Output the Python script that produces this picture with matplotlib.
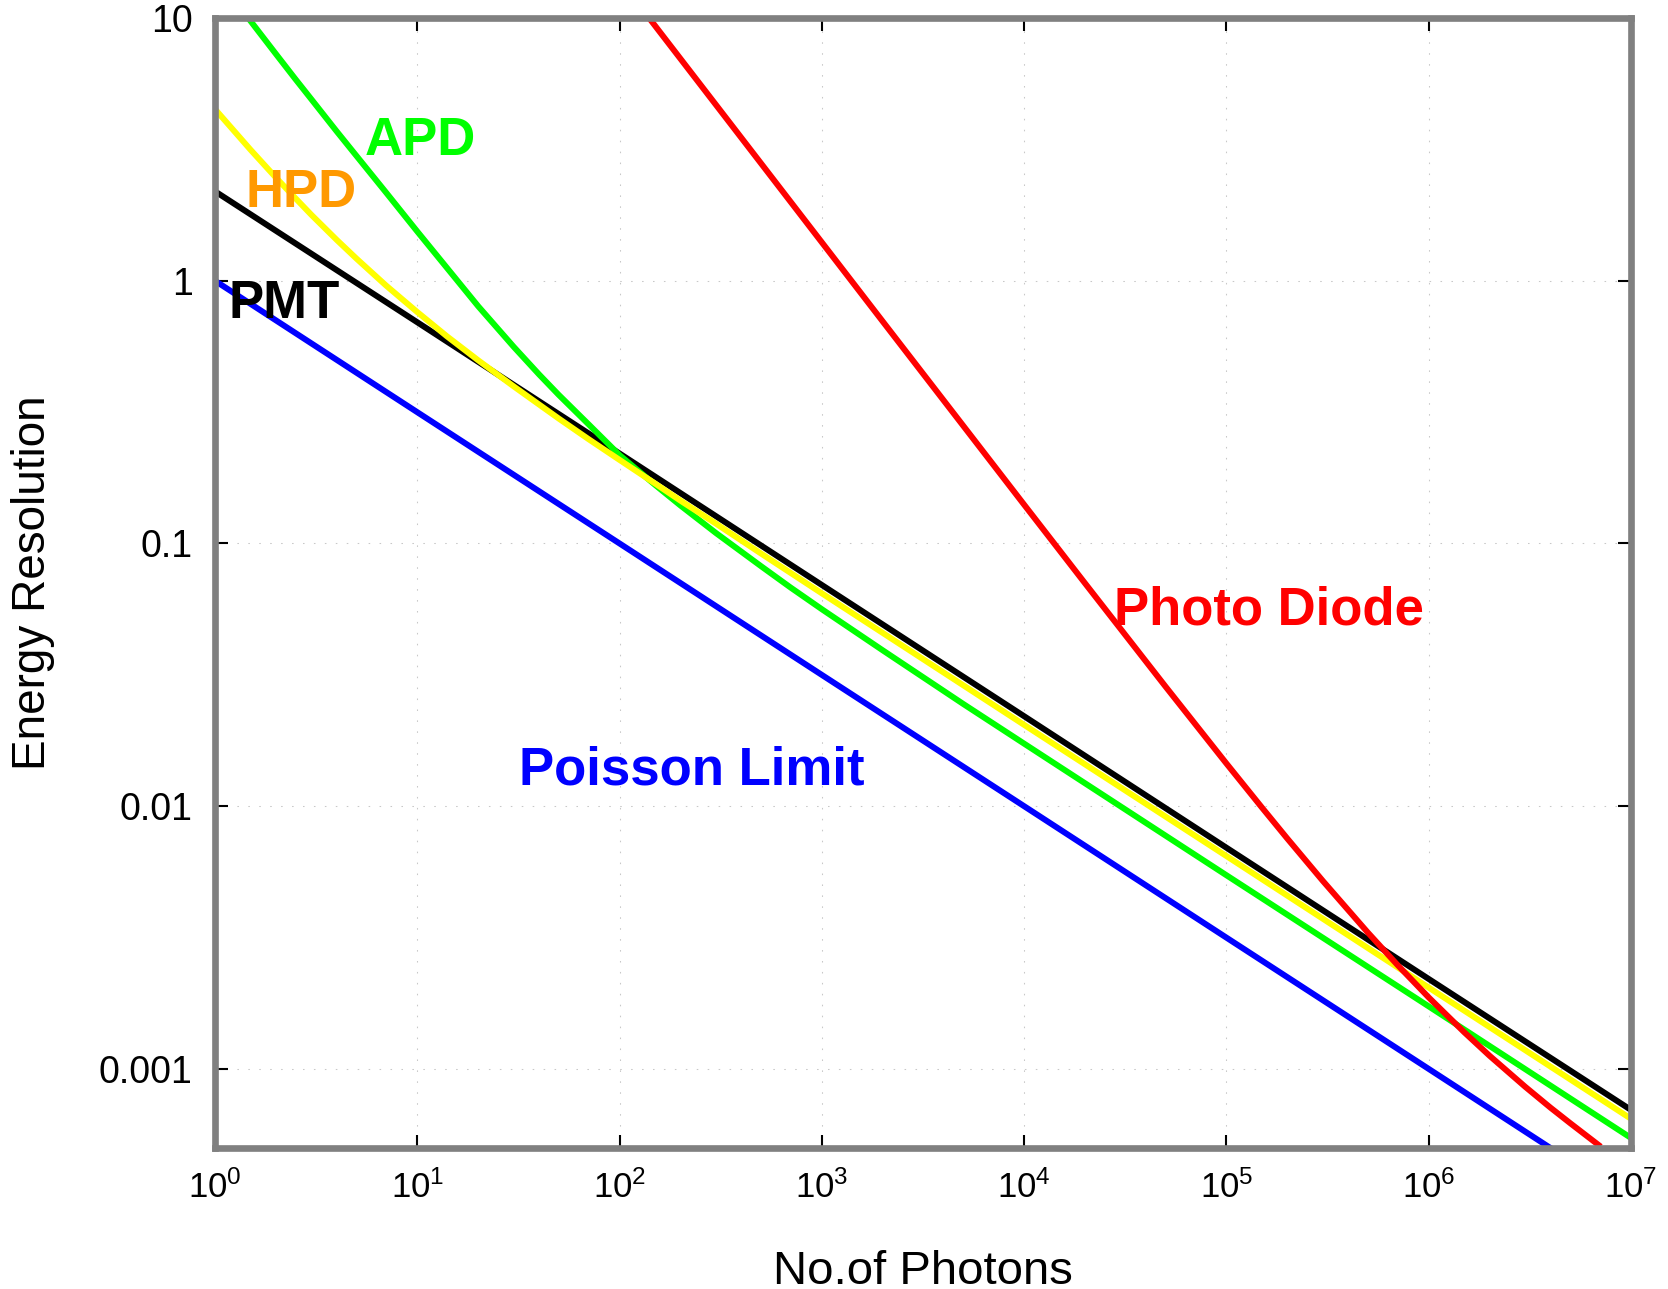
import matplotlib
matplotlib.use("Agg")
import matplotlib.pyplot as plt
from matplotlib.ticker import LogLocator, LogFormatterSciNotation, FixedLocator, FixedFormatter, NullLocator

plt.rcParams["font.family"] = ["Liberation Sans", "DejaVu Sans"]
plt.rcParams["mathtext.fontset"] = "custom"
plt.rcParams["mathtext.rm"] = "Liberation Sans"
plt.rcParams["mathtext.it"] = "Liberation Sans:italic"
plt.rcParams["mathtext.bf"] = "Liberation Sans:bold"

# values (No. of photons -> energy resolution)
poisson_n = [1, 1e1, 1e2, 1e3, 1e4, 1e5, 1e6, 1e7]
poisson_res = [1.0, 0.316, 0.1, 0.0316, 0.01, 0.00316, 0.001, 0.000316]

pmt_n = [1, 1e1, 1e2, 1e3, 1e4, 1e5, 1e6, 1e7]
pmt_res = [2.19, 0.695, 0.22, 0.0695, 0.022, 0.00695, 0.0022, 0.000698]

hpd_n = [1, 1.5, 2, 2.5, 3, 4, 5, 7, 10, 14, 20, 30, 50, 70, 100, 150, 200, 300, 500,
         1e3, 1e4, 1e5, 1e6, 1e7]
hpd_res = [4.5, 3.15, 2.47, 2.06, 1.78, 1.43, 1.215, 0.96, 0.76, 0.615, 0.498, 0.396,
           0.299, 0.250, 0.208, 0.169, 0.1456, 0.1189, 0.0916, 0.0646, 0.0204, 0.00646,
           0.00204, 0.000646]

apd_n = [1.46, 2, 2.5, 3, 4, 5, 7, 10, 15, 20, 30, 40, 50, 70, 100, 150, 200, 300, 500,
         700, 1e3, 2e3, 5e3, 1e4, 1e5, 1e6, 1e7]
apd_res = [10.0, 7.3, 5.85, 4.9, 3.70, 2.99, 2.17, 1.54, 1.05, 0.80, 0.56, 0.44, 0.368,
           0.285, 0.217, 0.167, 0.1395, 0.1095, 0.0820, 0.0680, 0.0562, 0.0392, 0.0245,
           0.0173, 0.00546, 0.00173, 0.000546]

pd_n = [140, 200, 300, 500, 700, 1e3, 2e3, 5e3, 1e4, 2e4, 5e4, 1e5, 1.5e5, 2e5, 3e5,
        5e5, 7e5, 1e6, 1.5e6, 2e6, 3e6, 4e6, 5e6, 6.9e6]
pd_res = [10.0, 7.0, 4.667, 2.80, 2.0, 1.40, 0.700, 0.2806, 0.1405, 0.07055, 0.02854,
          0.01454, 0.00987, 0.00753, 0.00519, 0.003305, 0.00249, 0.001871, 0.001378,
          0.001122, 0.000855, 0.000712, 0.000622, 0.000514]

y_ticks = [0.001, 0.01, 0.1, 1, 10]
y_ticklabels = ["0.001", "0.01", "0.1", "1", "10"]

fig = plt.figure(figsize=(16.68, 12.89), dpi=100)
ax = fig.add_axes([0.1289, 0.1094, 0.8489, 0.8766])

lw = 4.3
ax.plot(poisson_n, poisson_res, color="#0000ff", lw=lw)
ax.plot(pmt_n, pmt_res, color="black", lw=lw)
ax.plot(apd_n, apd_res, color="#00ff00", lw=lw)
ax.plot(hpd_n, hpd_res, color="#ffff00", lw=lw)
ax.plot(pd_n, pd_res, color="#ff0000", lw=lw)

ax.set_xscale("log")
ax.set_yscale("log")
ax.set_xlim(1, 1e7)
ax.set_ylim(5e-4, 10)

ax.xaxis.set_major_locator(LogLocator(base=10, numticks=10))
ax.xaxis.set_major_formatter(LogFormatterSciNotation())
ax.xaxis.set_minor_locator(NullLocator())
ax.yaxis.set_major_locator(FixedLocator(y_ticks))
ax.yaxis.set_major_formatter(FixedFormatter(y_ticklabels))
ax.yaxis.set_minor_locator(NullLocator())

ax.tick_params(which="major", direction="in", length=9.5, width=1.5, color="black",
               top=True, right=True)
ax.tick_params(axis="x", pad=16, labelsize=25)
ax.tick_params(axis="y", pad=16, labelsize=27)

ax.grid(True, which="major", color="#c8c8c8", lw=0.75, linestyle=(0, (1.5, 9)))
ax.set_axisbelow(True)

for s in ax.spines.values():
    s.set_color("#808080")
    s.set_linewidth(4.8)

ax.set_xlabel("No.of Photons", fontsize=34)
ax.set_ylabel("Energy Resolution", fontsize=33)
ax.xaxis.set_label_coords(0.5, -0.090)
ax.yaxis.set_label_coords(-0.113, 0.5)

bold = dict(fontsize=38, fontweight="bold", ha="left", va="baseline")
ax.text(5.51, 3.02, "APD", color="#00ff00", **bold)
ax.text(1.41, 1.915, "HPD", color="#ff9900", **bold)
ax.text(1.16, 0.723, "PMT", color="black", **bold)
ax.text(2.78e4, 0.0492, "Photo Diode", color="#ff0000", **bold)
ax.text(31.8, 0.0121, "Poisson Limit", color="#0000ff", **bold)

fig.savefig("out.png", dpi=100)
